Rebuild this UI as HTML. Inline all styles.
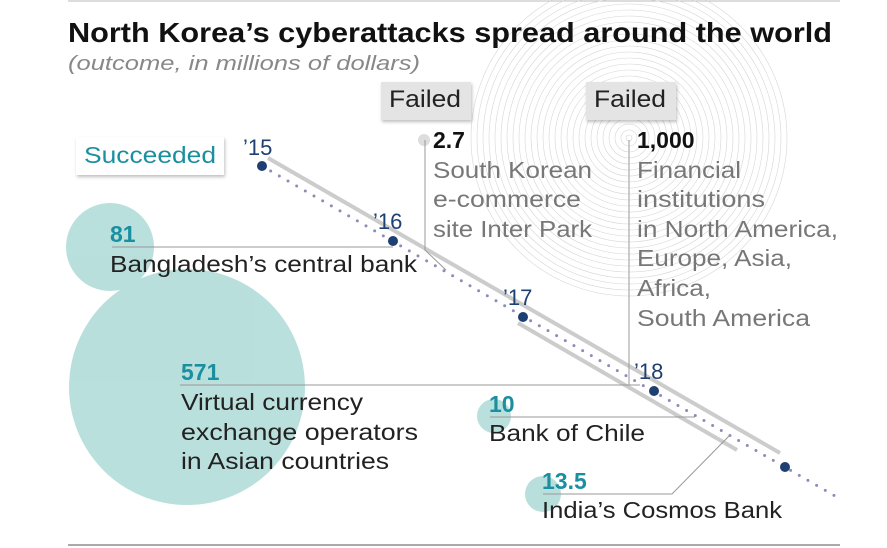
<!DOCTYPE html>
<html><head><meta charset="utf-8"><style>
body{margin:0;background:#fff;}
svg{display:block;font-family:"Liberation Sans",sans-serif;}
</style></head><body>
<svg width="887" height="548" viewBox="0 0 887 548">
<defs>
<filter id="sh" x="-20%" y="-20%" width="140%" height="160%"><feDropShadow dx="1" dy="2" stdDeviation="1.5" flood-color="#000" flood-opacity="0.25"/></filter>
</defs>
<line x1="68" y1="1" x2="840" y2="1" stroke="#bbb" stroke-width="1"/>
<g fill="none" stroke="#d6d6d6" stroke-width="0.6">
<circle cx="629" cy="138" r="158"/><circle cx="629" cy="138" r="152"/><circle cx="629" cy="138" r="146"/><circle cx="629" cy="138" r="140"/><circle cx="629" cy="138" r="134"/><circle cx="629" cy="138" r="128"/><circle cx="629" cy="138" r="122"/><circle cx="629" cy="138" r="116"/><circle cx="629" cy="138" r="110"/><circle cx="629" cy="138" r="104"/><circle cx="629" cy="138" r="98"/><circle cx="629" cy="138" r="92"/><circle cx="629" cy="138" r="86"/><circle cx="629" cy="138" r="80"/><circle cx="629" cy="138" r="74"/><circle cx="629" cy="138" r="68"/><circle cx="629" cy="138" r="62"/><circle cx="629" cy="138" r="56"/><circle cx="629" cy="138" r="50"/><circle cx="629" cy="138" r="44"/><circle cx="629" cy="138" r="38"/><circle cx="629" cy="138" r="32"/><circle cx="629" cy="138" r="26"/><circle cx="629" cy="138" r="20"/><circle cx="629" cy="138" r="14"/><circle cx="629" cy="138" r="8"/><circle cx="629" cy="138" r="3"/>
</g>
<circle cx="424" cy="140" r="6" fill="#ddd"/>
<g fill="#a8d8d5" opacity="0.8">
<circle cx="110" cy="247" r="44"/>
<circle cx="187" cy="387" r="118"/>
<circle cx="494" cy="416" r="17"/>
<circle cx="543" cy="494" r="18"/>
</g>
<text x="68" y="42" font-size="28" font-weight="bold" fill="#111" textLength="764" lengthAdjust="spacingAndGlyphs">North Korea’s cyberattacks spread around the world</text>
<text x="68" y="70" font-size="20" font-style="italic" fill="#888" textLength="352" lengthAdjust="spacingAndGlyphs">(outcome, in millions of dollars)</text>
<rect x="381" y="82" width="90" height="38" fill="#e4e4e4" filter="url(#sh)"/>
<text x="389" y="107" font-size="24" fill="#222" textLength="72" lengthAdjust="spacingAndGlyphs">Failed</text>
<rect x="586" y="82" width="90" height="38" fill="#e4e4e4" filter="url(#sh)"/>
<text x="594" y="107" font-size="24" fill="#222" textLength="72" lengthAdjust="spacingAndGlyphs">Failed</text>
<rect x="76" y="137" width="148" height="38" fill="#fff" filter="url(#sh)"/>
<text x="84" y="163" font-size="23" fill="#1a8fa0" textLength="132" lengthAdjust="spacingAndGlyphs">Succeeded</text>
<line x1="268" y1="158" x2="780" y2="453" stroke="#ccc" stroke-width="4"/>
<line x1="518" y1="323" x2="737" y2="450" stroke="#ccc" stroke-width="4"/>
<line x1="262" y1="166" x2="842" y2="500" stroke="#8c8cb8" stroke-width="3" stroke-dasharray="0 10" stroke-linecap="round"/>
<g fill="#1e3f72">
<circle cx="262" cy="166" r="5"/><circle cx="393" cy="241" r="5"/><circle cx="523" cy="317" r="5"/><circle cx="654" cy="391" r="5"/><circle cx="785" cy="467" r="5"/>
</g>
<g font-size="22" fill="#1e3f72">
<text x="243" y="155">’15</text><text x="373" y="229">’16</text><text x="503" y="305">’17</text><text x="634" y="379">’18</text>
</g>
<g stroke="#999" stroke-width="1" fill="none">
<line x1="112" y1="247" x2="393" y2="247"/>
<line x1="180" y1="385" x2="640" y2="385"/>
<line x1="490" y1="417" x2="695" y2="417"/>
<polyline points="543,494 672,494 730,435"/>
<polyline points="425,140 425,250 446,270"/>
<line x1="629" y1="140" x2="629" y2="385"/>
</g>
<g font-size="23" lengthAdjust="spacingAndGlyphs">
<text x="110" y="242" font-weight="bold" fill="#1a8fa0">81</text>
<text x="110" y="272" fill="#222" textLength="307" lengthAdjust="spacingAndGlyphs">Bangladesh’s central bank</text>
<text x="181" y="380" font-weight="bold" fill="#1a8fa0">571</text>
<text x="181" y="410" fill="#222" textLength="182" lengthAdjust="spacingAndGlyphs">Virtual currency</text>
<text x="181" y="440" fill="#222" textLength="237" lengthAdjust="spacingAndGlyphs">exchange operators</text>
<text x="181" y="469" fill="#222" textLength="208" lengthAdjust="spacingAndGlyphs">in Asian countries</text>
<text x="489" y="412" font-weight="bold" fill="#1a8fa0">10</text>
<text x="489" y="441" fill="#222" textLength="156" lengthAdjust="spacingAndGlyphs">Bank of Chile</text>
<text x="542" y="489" font-weight="bold" fill="#1a8fa0">13.5</text>
<text x="542" y="518" fill="#222" textLength="240" lengthAdjust="spacingAndGlyphs">India’s Cosmos Bank</text>
<text x="433" y="148" font-weight="bold" fill="#111">2.7</text>
<text x="433" y="178" fill="#777" textLength="159" lengthAdjust="spacingAndGlyphs">South Korean</text>
<text x="433" y="207" fill="#777" textLength="148" lengthAdjust="spacingAndGlyphs">e-commerce</text>
<text x="433" y="237" fill="#777" textLength="159" lengthAdjust="spacingAndGlyphs">site Inter Park</text>
<text x="637" y="148" font-weight="bold" fill="#111">1,000</text>
<text x="637" y="178" fill="#777" textLength="104" lengthAdjust="spacingAndGlyphs">Financial</text>
<text x="637" y="207" fill="#777" textLength="128" lengthAdjust="spacingAndGlyphs">institutions</text>
<text x="637" y="237" fill="#777" textLength="201" lengthAdjust="spacingAndGlyphs">in North America,</text>
<text x="637" y="266" fill="#777" textLength="155" lengthAdjust="spacingAndGlyphs">Europe, Asia,</text>
<text x="637" y="296" fill="#777" textLength="74" lengthAdjust="spacingAndGlyphs">Africa,</text>
<text x="637" y="326" fill="#777" textLength="173" lengthAdjust="spacingAndGlyphs">South America</text>
</g>
<line x1="68" y1="545" x2="840" y2="545" stroke="#aaa" stroke-width="2"/>
</svg>
</body></html>
